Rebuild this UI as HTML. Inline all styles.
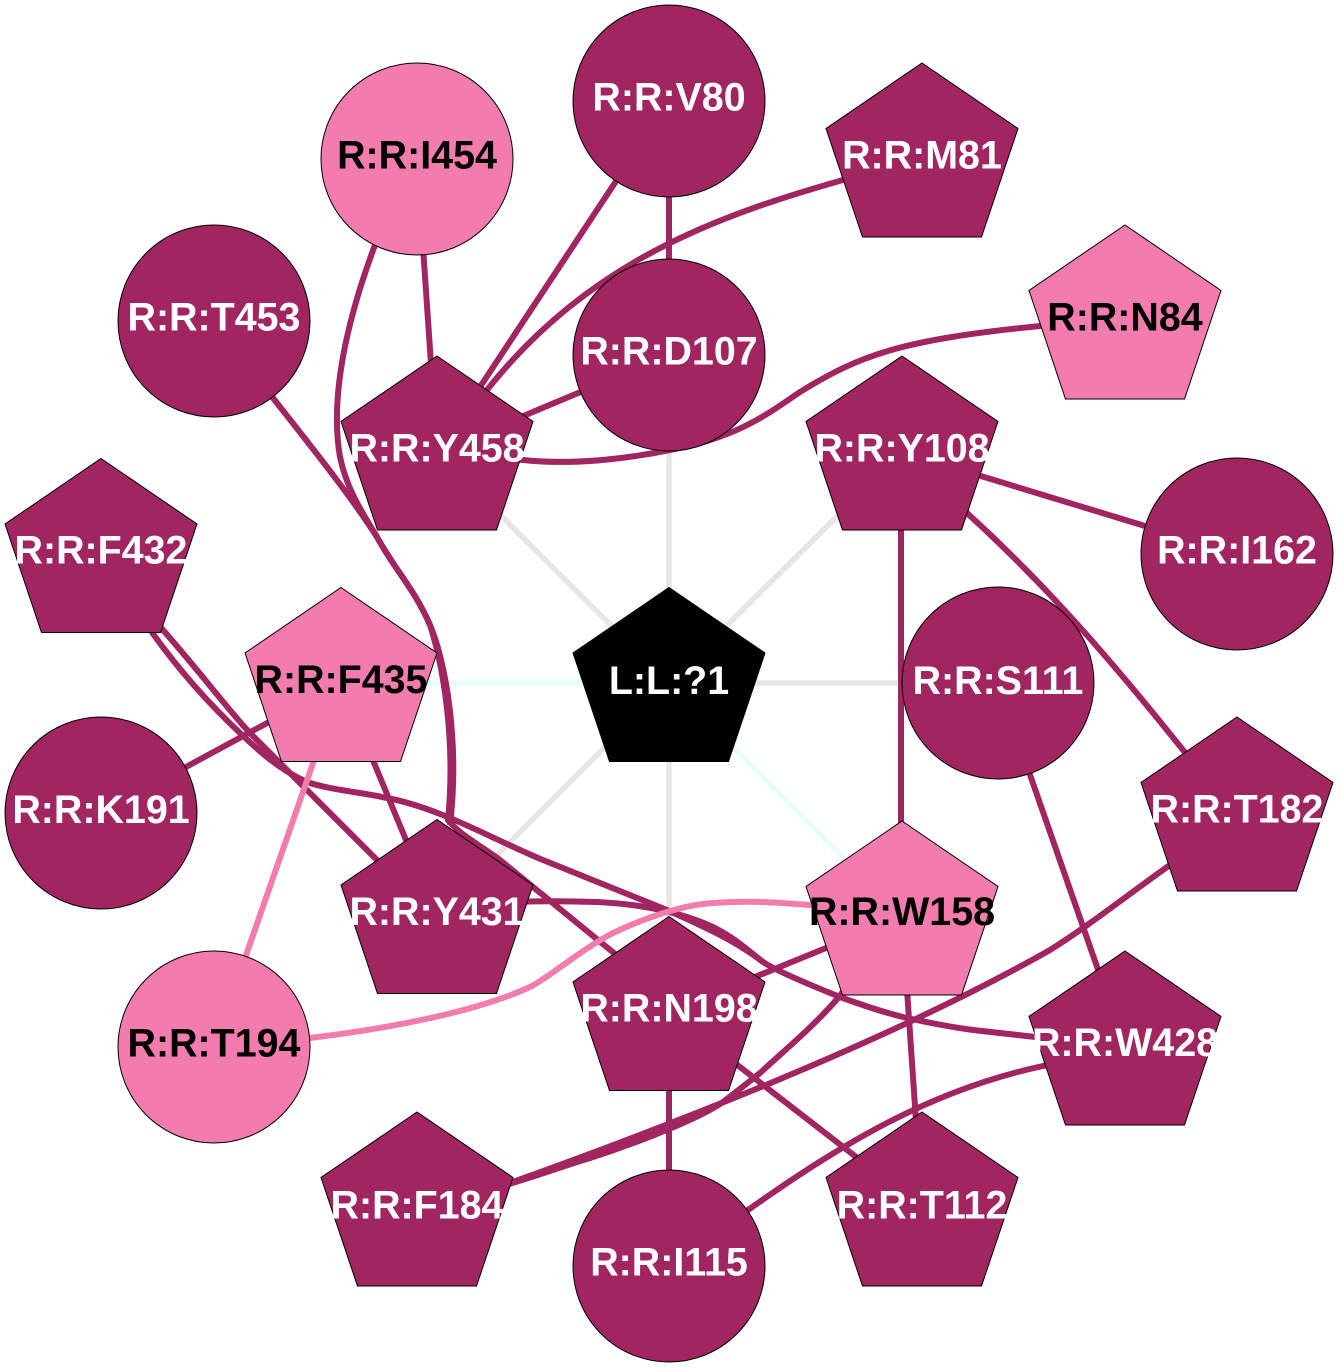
<!DOCTYPE html>
<html><head><meta charset="utf-8"><style>
html,body{margin:0;padding:0;background:#fff}
svg{display:block}
text{font-family:"Liberation Sans",sans-serif;font-weight:bold;font-size:39.4px;text-anchor:middle}
.d{stroke:#a02561;stroke-width:6;fill:none}
.p{stroke:#f27cae;stroke-width:6;fill:none}
.g{stroke:#e6e6e6;stroke-width:5.5;fill:none}
.c{stroke:#e8fdfb;stroke-width:5.5;fill:none}
.n{stroke:#000;stroke-width:1;fill:#a02561}
.k{stroke:#000;stroke-width:1;fill:#f27cae}
.w{fill:#fff}
</style></head><body>
<svg width="1338" height="1368" viewBox="0 0 1338 1368" xmlns="http://www.w3.org/2000/svg">
<defs><path id="pent" d="M0,-95.5 L96,-30 L59.5,78.5 L-59.5,78.5 L-96,-30 Z"/></defs>
<path class="g" d="M669,683L669,355M669,683L437,452M669,683L902,452M669,683L998,683M669,683L669,1012M669,683L437,915"/>
<path class="c" d="M669,683L341,683M669,683L902,917"/>
<path class="d" d="M669,101L669,355M669,101L437,452M437,452L417,159M437,452L669,355"/>
<path class="d" d="M922,159L843,180C720,215 590,260 487,390L437,452"/>
<path class="d" d="M1125,321L1040,326C900,340 860,355 800,392C770,412 740,437 670,450C620,460 570,465 523,460L437,452"/>
<path class="d" d="M375,245C345,325 330,400 340,457C347,490 362,512 377,537C395,570 415,590 430,625C445,660 460,740 450,825"/>
<path class="d" d="M214,321L273,398C310,445 350,495 377,537C395,570 415,590 430,625C443,665 456,740 448,820C460,835 480,845 500,860L669,998"/>
<path class="d" d="M101,813L341,683M341,683L437,915"/>
<path class="d" d="M150,615L163,630C200,672 230,712 250,733L437,920"/>
<path class="d" d="M140,615C170,660 205,700 240,733C260,752 280,770 307,782C330,790 360,792 387,798C440,808 490,838 543,860L667,910C700,925 735,940 763,962C775,970 810,985 840,997C870,1008 890,1014 907,1018C930,1023 950,1027 973,1030L1125,1047"/>
<path class="d" d="M437,905C500,902 540,900 597,902C640,904 680,912 713,927C735,938 745,948 763,962"/>
<path class="p" d="M214,1047L310,1038C400,1027 480,1010 530,987C550,977 580,950 613,933C640,920 680,905 713,903C750,900 780,903 810,905L902,905"/>
<path class="p" d="M214,1047L341,683"/>
<path class="d" d="M901,452L901,917M902,452L1237,554M902,452L967,513C1035,575 1095,640 1183,750L1237,813M998,683L1125,1047"/>
<path class="d" d="M1237,813L1170,865C1130,893 1090,925 1050,950C900,1035 700,1115 510,1183L417,1208"/>
<path class="d" d="M902,917L838,998C815,1025 785,1050 760,1073C745,1085 735,1093 723,1102C700,1118 640,1142 590,1158C550,1170 500,1190 417,1208"/>
<path class="d" d="M902,917L669,1012M902,917L922,1208M669,1012L669,1266M669,1012L922,1208"/>
<path class="d" d="M1125,1047L1043,1066C930,1090 840,1145 748,1210L669,1266"/>

<use href="#pent" x="669" y="683" fill="#000" stroke="#000"/>
<circle class="n" cx="669" cy="101" r="96"/>
<use class="n" href="#pent" x="922" y="158.5"/>
<use class="k" href="#pent" x="1125" y="320.5"/>
<use class="n" href="#pent" x="902" y="451.5"/>
<circle class="n" cx="1237" cy="554" r="96"/>
<circle class="n" cx="998" cy="683" r="96"/>
<use class="n" href="#pent" x="1237" y="812.5"/>
<use class="k" href="#pent" x="902" y="916.5"/>
<use class="n" href="#pent" x="1125" y="1046.5"/>
<use class="n" href="#pent" x="922" y="1207.5"/>
<circle class="n" cx="669" cy="1266" r="96"/>
<use class="n" href="#pent" x="417" y="1207.5"/>
<use class="n" href="#pent" x="669" y="1012"/>
<use class="n" href="#pent" x="437" y="915"/>
<circle class="k" cx="214" cy="1047" r="96"/>
<circle class="n" cx="101" cy="813" r="96"/>
<use class="k" href="#pent" x="341" y="683"/>
<use class="n" href="#pent" x="101" y="554"/>
<circle class="n" cx="214" cy="321" r="96"/>
<circle class="k" cx="417" cy="159" r="96"/>
<use class="n" href="#pent" x="437" y="451.5"/>
<circle class="n" cx="669" cy="355" r="96"/>

<text class="w" x="669" y="694">L:L:?1</text>
<text class="w" x="669" y="110.5">R:R:V80</text>
<text class="w" x="922" y="168.5">R:R:M81</text>
<text x="1125" y="330.5">R:R:N84</text>
<text class="w" x="902" y="461.5">R:R:Y108</text>
<text class="w" x="1237" y="563.5">R:R:I162</text>
<text class="w" x="998" y="694">R:R:S111</text>
<text class="w" x="1237" y="822.5">R:R:T182</text>
<text x="902" y="925">R:R:W158</text>
<text class="w" x="1125" y="1056">R:R:W428</text>
<text class="w" x="922" y="1218.5">R:R:T112</text>
<text class="w" x="669" y="1275.5">R:R:I115</text>
<text class="w" x="417" y="1218.5">R:R:F184</text>
<text class="w" x="669" y="1021.5">R:R:N198</text>
<text class="w" x="437" y="925">R:R:Y431</text>
<text x="214" y="1056.5">R:R:T194</text>
<text class="w" x="101" y="823">R:R:K191</text>
<text x="341" y="693">R:R:F435</text>
<text class="w" x="101" y="563.5">R:R:F432</text>
<text class="w" x="214" y="330.5">R:R:T453</text>
<text x="417" y="168.5">R:R:I454</text>
<text class="w" x="437" y="461.5">R:R:Y458</text>
<text class="w" x="669" y="364.5">R:R:D107</text>
</svg>
</body></html>
